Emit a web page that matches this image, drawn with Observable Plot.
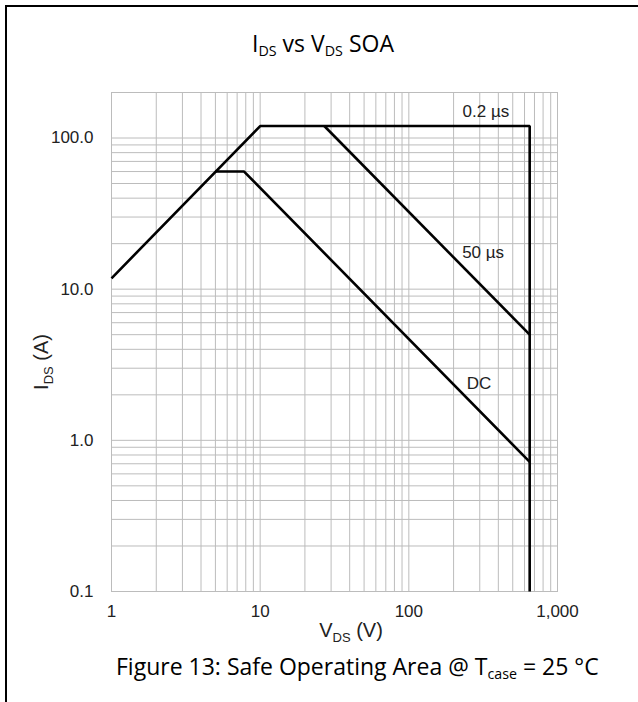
<!DOCTYPE html>
<html><head><meta charset="utf-8">
<script src="https://cdn.jsdelivr.net/npm/d3@7"></script>
<script src="https://cdn.jsdelivr.net/npm/@observablehq/plot@0.6"></script>
<style>
body{margin:0;background:#fff;}
#wrap{position:relative;width:638px;height:702px;overflow:hidden;background:#fff;}
#frame{position:absolute;left:5px;top:5px;width:700px;height:760px;border-top:2px solid #000;border-left:2px solid #000;}
#chart{position:absolute;left:0;top:0;}
#title{position:absolute;top:32px;left:4px;width:638px;text-align:center;font-family:"Open Sans",sans-serif;font-size:23px;line-height:23px;color:#000;white-space:nowrap;}
#caption{position:absolute;top:655px;left:116px;white-space:nowrap;font-family:"Open Sans",sans-serif;font-size:23px;line-height:23px;color:#000;}
.sb{font-size:0.62em;vertical-align:-0.25em;}
</style>
</head><body>
<div id="wrap">
  <div id="frame"></div>
  <div id="chart"></div>
  <div id="title">I<span class="sb">DS</span> vs V<span class="sb">DS</span> SOA</div>
  <div id="caption">Figure 13: Safe Operating Area @ T<span class="sb">case</span> = 25 °C</div>
</div>
<script>
// Curves (V_DS in volts, I_DS in amperes)
const envelopeV = [1, 10, 650, 650];      // 0.2 µs limit (Rds(on) line, current limit, voltage limit)
const envelopeI = [11.8, 120, 120, 0.1];
const pulse50V = [27, 650];
const pulse50I = [120, 5];
const dcV = [5, 7.8, 650];
const dcI = [60, 60, 0.72];

// Curve labels, anchored in data units
const labelText = ["0.2 µs", "50 µs", "DC"];
const labelV = [330, 316, 297];
const labelI = [150, 17.6, 2.38];

// Ticks and grid
const xTicks = [1, 10, 100, 1000];
const yTicks = [0.1, 1, 10, 100];
const xGrid = [1,2,3,4,5,6,7,8,9,10,20,30,40,50,60,70,80,90,100,200,300,400,500,600,700,800,900,1000];
const yGrid = [0.1,0.2,0.3,0.4,0.5,0.6,0.7,0.8,0.9,1,2,3,4,5,6,7,8,9,10,20,30,40,50,60,70,80,90,100];

const toRows = (V, I) => V.map((v, k) => ({v, i: I[k]}));
const envelope = toRows(envelopeV, envelopeI);
const pulse50 = toRows(pulse50V, pulse50I);
const dc = toRows(dcV, dcI);
const labels = labelText.map((t, k) => ({t, v: labelV[k], i: labelI[k]}));

const gridColor = "#bcbcbc";
const lineOpts = {x: "v", y: "i", stroke: "#000", strokeWidth: 2.6, strokeLinejoin: "miter", strokeLinecap: "butt"};

const plot = Plot.plot({
  width: 638,
  height: 650,
  marginTop: 92,
  marginLeft: 111,
  marginRight: 81,
  marginBottom: 59,
  x: {type: "log", domain: [1, 1000]},
  y: {type: "log", domain: [0.1, 200]},
  style: {fontFamily: "'Liberation Sans', Arial, sans-serif", fontSize: "17px", color: "#222", background: "transparent"},
  marks: [
    Plot.ruleX(xGrid, {stroke: gridColor, strokeOpacity: 1}),
    Plot.ruleY(yGrid, {stroke: gridColor, strokeOpacity: 1}),
    Plot.frame({stroke: gridColor}),
    Plot.axisX(xTicks, {tickSize: 0, tickPadding: 13, tickFormat: d3.format(","), label: null, fontSize: 17}),
    Plot.axisY(yTicks, {tickSize: 0, tickPadding: 18, tickFormat: d3.format(".1f"), label: null, fontSize: 17}),
    Plot.line(envelope, lineOpts),
    Plot.line(pulse50, lineOpts),
    Plot.line(dc, lineOpts),
    Plot.text(labels, {x: "v", y: "i", text: "t", fill: "#222", fontSize: 17, textAnchor: "middle"})
  ]
});
document.getElementById("chart").appendChild(plot);

// Axis labels with subscripts
const svg = d3.select(plot);
const xl = svg.append("text")
  .attr("x", 351).attr("y", 637)
  .attr("text-anchor", "middle")
  .attr("fill", "#222")
  .style("font-size", "20px");
xl.append("tspan").text("V");
xl.append("tspan").attr("dy", 5).style("font-size", "13px").text("DS");
xl.append("tspan").attr("dy", -5).text(" (V)");

const yl = svg.append("text")
  .attr("transform", "translate(48,362) rotate(-90)")
  .attr("text-anchor", "middle")
  .attr("fill", "#222")
  .style("font-size", "20px");
yl.append("tspan").text("I");
yl.append("tspan").attr("dy", 5).style("font-size", "13px").text("DS");
yl.append("tspan").attr("dy", -5).text(" (A)");
</script>
</body></html>
